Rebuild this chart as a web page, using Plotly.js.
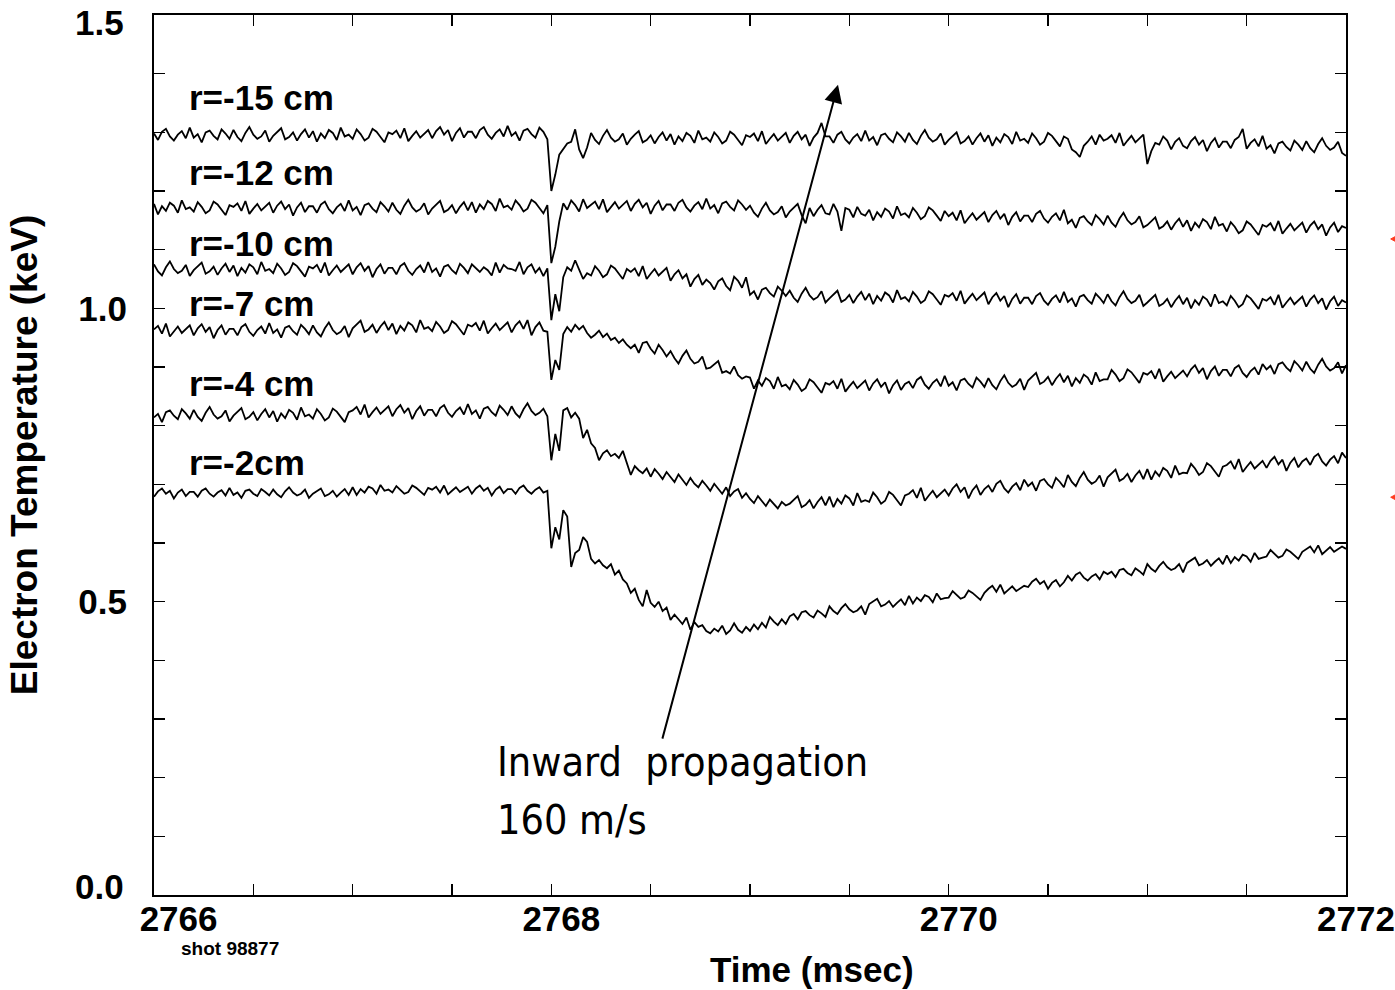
<!DOCTYPE html>
<html>
<head>
<meta charset="utf-8">
<script src="https://cdn.plot.ly/plotly-3.0.1.min.js"></script>
<style>html,body{margin:0;padding:0;background:#fff;}#chart{width:1395px;height:990px;}</style>
</head>
<body>
<div id="chart"></div>
<script>
// ---- data ----
const timeStart = 2766;      // msec
const timeStep = 0.02;

const seriesNames = ['r=-15 cm', 'r=-12 cm', 'r=-10 cm', 'r=-7 cm', 'r=-4 cm', 'r=-2cm'];

const te_r15 = [
1.298,1.287,1.301,1.306,1.293,1.286,1.296,1.302,1.290,1.308,
1.291,1.297,1.283,1.300,1.303,1.294,1.288,1.305,1.298,1.289,
1.304,1.292,1.285,1.299,1.309,1.296,1.289,1.293,1.303,1.284,
1.294,1.301,1.307,1.288,1.292,1.300,1.286,1.297,1.305,1.291,
1.302,1.284,1.298,1.290,1.304,1.299,1.287,1.308,1.293,1.296,
1.289,1.305,1.297,1.286,1.291,1.306,1.301,1.292,1.283,1.300,
1.297,1.303,1.290,1.307,1.285,1.294,1.302,1.291,1.298,1.304,
1.290,1.302,1.309,1.296,1.304,1.285,1.299,1.307,1.291,1.301,
1.301,1.290,1.304,1.309,1.296,1.289,1.299,1.305,1.293,1.311,
1.294,1.300,1.286,1.303,1.306,1.297,1.291,1.308,1.301,1.288,
1.200,1.228,1.262,1.272,1.281,1.284,1.305,1.271,1.256,1.274,
1.299,1.287,1.280,1.294,1.304,1.291,1.284,1.288,1.298,1.279,
1.289,1.296,1.302,1.283,1.287,1.295,1.281,1.292,1.300,1.286,
1.297,1.279,1.293,1.285,1.299,1.294,1.282,1.303,1.288,1.291,
1.284,1.300,1.292,1.281,1.286,1.301,1.296,1.287,1.278,1.295,
1.292,1.298,1.285,1.302,1.280,1.289,1.297,1.286,1.293,1.299,
1.282,1.294,1.301,1.288,1.296,1.277,1.291,1.299,1.316,1.293,
1.293,1.282,1.296,1.301,1.288,1.281,1.291,1.297,1.285,1.303,
1.286,1.292,1.278,1.295,1.298,1.289,1.283,1.300,1.293,1.284,
1.299,1.287,1.280,1.294,1.304,1.291,1.284,1.288,1.298,1.279,
1.287,1.294,1.300,1.281,1.285,1.293,1.279,1.290,1.298,1.284,
1.295,1.277,1.291,1.283,1.297,1.292,1.280,1.301,1.286,1.289,
1.282,1.298,1.290,1.279,1.284,1.299,1.294,1.285,1.276,1.293,
1.289,1.271,1.266,1.258,1.277,1.284,1.293,1.279,1.296,1.286,
1.289,1.295,1.282,1.299,1.277,1.286,1.294,1.283,1.290,1.296,
1.246,1.268,1.282,1.279,1.293,1.286,1.271,1.284,1.290,1.277,
1.273,1.285,1.292,1.279,1.287,1.268,1.282,1.290,1.274,1.284,
1.284,1.273,1.287,1.292,1.306,1.272,1.282,1.288,1.276,1.294,
1.272,1.278,1.264,1.281,1.284,1.275,1.269,1.286,1.279,1.270,
1.285,1.273,1.266,1.280,1.290,1.277,1.270,1.274,1.284,1.265,
1.260];

const te_r12 = [
1.178,1.160,1.174,1.166,1.180,1.175,1.163,1.184,1.169,1.172,
1.165,1.181,1.173,1.162,1.167,1.182,1.177,1.168,1.159,1.176,
1.173,1.179,1.166,1.183,1.161,1.170,1.178,1.167,1.174,1.180,
1.163,1.175,1.182,1.169,1.177,1.158,1.172,1.180,1.164,1.174,
1.174,1.163,1.177,1.182,1.169,1.162,1.172,1.178,1.166,1.184,
1.167,1.173,1.159,1.176,1.179,1.170,1.164,1.181,1.174,1.165,
1.180,1.168,1.161,1.175,1.185,1.172,1.165,1.169,1.179,1.160,
1.170,1.177,1.183,1.164,1.168,1.176,1.162,1.173,1.181,1.167,
1.181,1.163,1.177,1.169,1.183,1.178,1.166,1.187,1.172,1.175,
1.168,1.184,1.176,1.165,1.170,1.185,1.180,1.171,1.162,1.176,
1.077,1.105,1.148,1.179,1.168,1.184,1.176,1.165,1.186,1.171,
1.176,1.182,1.169,1.186,1.164,1.173,1.181,1.170,1.177,1.183,
1.166,1.178,1.185,1.172,1.180,1.161,1.175,1.183,1.167,1.177,
1.177,1.166,1.180,1.185,1.172,1.165,1.175,1.181,1.169,1.187,
1.170,1.176,1.162,1.179,1.182,1.173,1.167,1.184,1.177,1.168,
1.175,1.163,1.156,1.170,1.180,1.167,1.160,1.164,1.174,1.155,
1.165,1.172,1.178,1.159,1.145,1.171,1.157,1.168,1.176,1.162,
1.160,1.178,1.165,1.132,1.171,1.168,1.155,1.173,1.161,1.158,
1.168,1.150,1.164,1.156,1.170,1.165,1.153,1.174,1.159,1.162,
1.155,1.171,1.163,1.152,1.157,1.172,1.167,1.158,1.149,1.166,
1.157,1.163,1.150,1.167,1.145,1.154,1.162,1.151,1.158,1.164,
1.147,1.159,1.166,1.153,1.161,1.142,1.156,1.164,1.148,1.158,
1.158,1.147,1.161,1.166,1.153,1.146,1.156,1.162,1.150,1.168,
1.145,1.151,1.137,1.154,1.157,1.148,1.142,1.159,1.152,1.143,
1.158,1.146,1.139,1.153,1.163,1.150,1.143,1.147,1.157,1.138,
1.142,1.149,1.155,1.136,1.140,1.148,1.134,1.145,1.153,1.139,
1.150,1.132,1.146,1.138,1.152,1.147,1.135,1.156,1.141,1.144,
1.131,1.147,1.139,1.128,1.133,1.148,1.143,1.134,1.125,1.142,
1.139,1.145,1.132,1.149,1.127,1.136,1.144,1.133,1.140,1.146,
1.129,1.141,1.148,1.135,1.143,1.124,1.138,1.146,1.130,1.140,
1.137];

const te_r10 = [
1.075,1.063,1.056,1.070,1.080,1.067,1.060,1.064,1.074,1.055,
1.065,1.072,1.078,1.059,1.063,1.071,1.057,1.068,1.076,1.062,
1.073,1.055,1.069,1.061,1.075,1.070,1.058,1.079,1.064,1.067,
1.060,1.076,1.068,1.057,1.062,1.077,1.072,1.063,1.054,1.071,
1.068,1.074,1.061,1.078,1.056,1.065,1.073,1.062,1.069,1.075,
1.058,1.070,1.077,1.064,1.072,1.053,1.067,1.075,1.059,1.069,
1.069,1.058,1.072,1.077,1.064,1.057,1.067,1.073,1.061,1.079,
1.062,1.068,1.054,1.071,1.074,1.065,1.059,1.076,1.069,1.060,
1.075,1.069,1.062,1.070,1.065,1.056,1.078,1.061,1.074,1.068,
1.067,1.064,1.079,1.058,1.070,1.075,1.061,1.069,1.055,1.068,
0.980,1.024,0.995,1.053,1.070,1.064,1.082,1.066,1.050,1.060,
1.056,1.072,1.064,1.053,1.058,1.073,1.068,1.059,1.050,1.067,
1.062,1.068,1.055,1.072,1.050,1.059,1.067,1.056,1.063,1.069,
1.047,1.058,1.065,1.051,1.058,1.037,1.050,1.057,1.040,1.049,
1.043,1.032,1.046,1.051,1.038,1.031,1.054,1.047,1.035,1.053,
1.023,1.029,1.015,1.032,1.035,1.026,1.020,1.037,1.030,1.021,
1.030,1.018,1.011,1.025,1.035,1.022,1.015,1.019,1.029,1.010,
1.017,1.024,1.030,1.011,1.015,1.023,1.009,1.020,1.028,1.014,
1.025,1.007,1.021,1.013,1.027,1.022,1.010,1.031,1.016,1.019,
1.012,1.028,1.020,1.009,1.014,1.029,1.024,1.015,1.006,1.023,
1.020,1.026,1.013,1.030,1.008,1.017,1.025,1.014,1.021,1.027,
1.007,1.019,1.026,1.013,1.021,1.002,1.016,1.024,1.008,1.018,
1.018,1.007,1.021,1.026,1.013,1.006,1.016,1.022,1.010,1.028,
1.011,1.017,1.003,1.020,1.023,1.014,1.008,1.025,1.018,1.009,
1.024,1.012,1.005,1.019,1.029,1.016,1.009,1.013,1.023,1.004,
1.010,1.017,1.023,1.004,1.008,1.016,1.002,1.013,1.021,1.007,
1.018,1.000,1.014,1.006,1.020,1.015,1.003,1.024,1.009,1.012,
1.005,1.021,1.013,1.002,1.007,1.022,1.017,1.008,0.999,1.016,
1.013,1.019,1.006,1.023,1.001,1.010,1.018,1.007,1.014,1.020,
1.003,1.015,1.022,1.009,1.017,0.998,1.012,1.020,1.004,1.014,
1.010];

const te_r7 = [
0.964,0.970,0.957,0.974,0.952,0.961,0.969,0.958,0.965,0.971,
0.954,0.966,0.973,0.960,0.968,0.949,0.963,0.971,0.955,0.965,
0.965,0.954,0.968,0.973,0.960,0.953,0.963,0.969,0.957,0.975,
0.958,0.964,0.950,0.967,0.970,0.961,0.955,0.972,0.965,0.956,
0.971,0.959,0.952,0.966,0.976,0.963,0.956,0.960,0.970,0.951,
0.966,0.973,0.979,0.960,0.964,0.972,0.958,0.969,0.977,0.963,
0.974,0.956,0.970,0.962,0.976,0.971,0.959,0.980,0.965,0.968,
0.961,0.977,0.969,0.958,0.963,0.978,0.973,0.964,0.955,0.972,
0.969,0.975,0.962,0.979,0.957,0.966,0.974,0.963,0.970,0.976,
0.959,0.971,0.978,0.965,0.980,0.954,0.968,0.976,0.962,0.960,
0.878,0.912,0.895,0.956,0.968,0.960,0.972,0.964,0.970,0.958,
0.950,0.955,0.962,0.951,0.957,0.946,0.950,0.941,0.947,0.938,
0.932,0.938,0.924,0.941,0.943,0.931,0.923,0.938,0.929,0.918,
0.927,0.915,0.906,0.919,0.928,0.914,0.906,0.909,0.918,0.897,
0.899,0.905,0.910,0.890,0.893,0.889,0.901,0.886,0.880,0.884,
0.882,0.863,0.877,0.868,0.881,0.876,0.863,0.883,0.867,0.870,
0.862,0.878,0.870,0.859,0.864,0.879,0.874,0.865,0.856,0.873,
0.870,0.876,0.863,0.880,0.858,0.867,0.875,0.864,0.871,0.877,
0.860,0.872,0.879,0.866,0.874,0.855,0.869,0.877,0.861,0.871,
0.875,0.864,0.878,0.883,0.870,0.863,0.873,0.879,0.867,0.885,
0.868,0.874,0.860,0.877,0.880,0.871,0.865,0.882,0.875,0.866,
0.881,0.869,0.862,0.876,0.886,0.873,0.866,0.870,0.880,0.861,
0.877,0.884,0.890,0.871,0.875,0.883,0.869,0.880,0.888,0.874,
0.885,0.867,0.881,0.873,0.887,0.882,0.870,0.891,0.876,0.879,
0.879,0.895,0.887,0.876,0.881,0.896,0.891,0.882,0.873,0.890,
0.887,0.893,0.880,0.897,0.875,0.884,0.892,0.881,0.888,0.894,
0.884,0.896,0.903,0.890,0.898,0.879,0.893,0.901,0.885,0.895,
0.895,0.884,0.898,0.903,0.890,0.883,0.893,0.899,0.887,0.905,
0.896,0.902,0.888,0.905,0.908,0.899,0.893,0.910,0.903,0.894,
0.909,0.897,0.890,0.904,0.914,0.901,0.894,0.898,0.908,0.889,
0.903];

const te_r4 = [
0.814,0.820,0.806,0.823,0.826,0.817,0.811,0.828,0.821,0.812,
0.827,0.815,0.808,0.822,0.832,0.819,0.812,0.816,0.826,0.807,
0.817,0.824,0.830,0.811,0.815,0.823,0.809,0.820,0.828,0.814,
0.825,0.807,0.821,0.813,0.827,0.822,0.810,0.831,0.816,0.819,
0.812,0.828,0.820,0.809,0.814,0.829,0.824,0.815,0.806,0.823,
0.826,0.832,0.819,0.836,0.814,0.823,0.831,0.820,0.827,0.833,
0.816,0.828,0.835,0.822,0.830,0.811,0.825,0.833,0.817,0.827,
0.827,0.816,0.830,0.835,0.822,0.815,0.825,0.831,0.819,0.837,
0.820,0.826,0.812,0.829,0.832,0.823,0.817,0.834,0.827,0.818,
0.833,0.821,0.814,0.828,0.838,0.825,0.818,0.822,0.829,0.816,
0.741,0.786,0.757,0.826,0.830,0.814,0.822,0.812,0.779,0.793,
0.770,0.762,0.741,0.753,0.758,0.748,0.752,0.745,0.757,0.738,
0.716,0.731,0.724,0.719,0.727,0.713,0.726,0.718,0.709,0.721,
0.712,0.704,0.717,0.708,0.699,0.711,0.701,0.695,0.706,0.698,
0.689,0.701,0.692,0.684,0.695,0.680,0.688,0.692,0.677,0.685,
0.675,0.668,0.680,0.671,0.663,0.674,0.666,0.659,0.670,0.664,
0.667,0.674,0.680,0.661,0.665,0.673,0.659,0.670,0.678,0.664,
0.679,0.661,0.675,0.667,0.681,0.676,0.664,0.685,0.670,0.673,
0.670,0.686,0.678,0.667,0.672,0.687,0.682,0.673,0.664,0.681,
0.684,0.690,0.677,0.694,0.672,0.681,0.689,0.678,0.685,0.691,
0.681,0.693,0.700,0.687,0.695,0.676,0.690,0.698,0.682,0.692,
0.698,0.687,0.701,0.706,0.693,0.686,0.696,0.702,0.690,0.708,
0.697,0.703,0.689,0.706,0.709,0.700,0.694,0.711,0.704,0.695,
0.716,0.704,0.697,0.711,0.721,0.708,0.701,0.705,0.715,0.696,
0.712,0.719,0.725,0.706,0.710,0.718,0.704,0.715,0.723,0.709,
0.726,0.708,0.722,0.714,0.728,0.723,0.711,0.732,0.717,0.720,
0.719,0.735,0.727,0.716,0.721,0.736,0.731,0.722,0.713,0.730,
0.733,0.739,0.726,0.743,0.721,0.730,0.738,0.727,0.734,0.740,
0.728,0.740,0.747,0.734,0.742,0.723,0.737,0.745,0.729,0.739,
0.744,0.733,0.747,0.752,0.739,0.732,0.742,0.748,0.736,0.754,
0.745];

const te_r2 = [
0.679,0.688,0.693,0.684,0.689,0.676,0.686,0.691,0.680,0.687,
0.687,0.679,0.689,0.693,0.684,0.679,0.686,0.690,0.681,0.694,
0.682,0.686,0.677,0.689,0.691,0.684,0.680,0.692,0.687,0.681,
0.691,0.683,0.678,0.688,0.695,0.686,0.681,0.684,0.691,0.677,
0.684,0.689,0.693,0.680,0.683,0.689,0.679,0.686,0.692,0.682,
0.695,0.682,0.692,0.686,0.696,0.693,0.684,0.699,0.689,0.691,
0.686,0.697,0.691,0.684,0.687,0.698,0.694,0.688,0.682,0.694,
0.691,0.696,0.686,0.698,0.683,0.689,0.695,0.687,0.692,0.696,
0.684,0.693,0.698,0.689,0.694,0.681,0.691,0.696,0.685,0.692,
0.692,0.684,0.694,0.698,0.689,0.684,0.691,0.695,0.686,0.689,
0.591,0.627,0.606,0.656,0.645,0.559,0.583,0.588,0.610,0.602,
0.573,0.565,0.571,0.562,0.557,0.564,0.546,0.553,0.538,0.531,
0.515,0.522,0.503,0.492,0.520,0.498,0.491,0.500,0.484,0.490,
0.469,0.478,0.470,0.462,0.473,0.452,0.465,0.457,0.460,0.450,
0.446,0.454,0.449,0.459,0.445,0.451,0.463,0.452,0.447,0.457,
0.450,0.461,0.453,0.464,0.456,0.474,0.466,0.460,0.470,0.462,
0.475,0.479,0.470,0.482,0.484,0.477,0.473,0.485,0.480,0.474,
0.492,0.484,0.479,0.489,0.496,0.487,0.482,0.485,0.492,0.478,
0.496,0.501,0.505,0.492,0.495,0.501,0.491,0.498,0.504,0.494,
0.510,0.497,0.507,0.501,0.511,0.508,0.499,0.514,0.504,0.506,
0.507,0.518,0.512,0.505,0.508,0.519,0.515,0.509,0.503,0.515,
0.522,0.527,0.517,0.529,0.514,0.520,0.526,0.518,0.523,0.527,
0.525,0.534,0.539,0.530,0.535,0.522,0.532,0.537,0.526,0.533,
0.544,0.536,0.546,0.550,0.541,0.536,0.543,0.547,0.538,0.551,
0.547,0.551,0.542,0.554,0.556,0.549,0.545,0.557,0.552,0.546,
0.564,0.556,0.551,0.561,0.568,0.559,0.554,0.557,0.564,0.550,
0.566,0.571,0.575,0.562,0.565,0.571,0.561,0.568,0.574,0.564,
0.579,0.566,0.576,0.570,0.580,0.577,0.568,0.583,0.573,0.575,
0.577,0.588,0.582,0.575,0.578,0.589,0.585,0.579,0.573,0.585,
0.589,0.594,0.584,0.596,0.581,0.587,0.593,0.585,0.590,0.594,
0.590];

const xTickVals = [2766, 2766.5, 2767, 2767.5, 2768, 2768.5, 2769, 2769.5, 2770, 2770.5, 2771, 2771.5, 2772];
const xTickText = ['&nbsp;&nbsp;&nbsp;2766', '', '', '', '2768', '', '', '', '2770', '', '', '', '2772'];
const yTickVals = [0, 0.1, 0.2, 0.3, 0.4, 0.5, 0.6, 0.7, 0.8, 0.9, 1.0, 1.1, 1.2, 1.3, 1.4, 1.5];
// the end labels (0.0 and 1.5) sit just inside the frame, so they are drawn as their own texts below
const yTickText = ['', '', '', '', '', '0.5', '', '', '', '', '1.0', '', '', '', '', ''];
const yEndLabels = ['0.0', '1.5'];

const xTitle = 'Time (msec)';
const yTitle = 'Electron Temperature (keV)';
const shotLabel = 'shot 98877';
const noteLine1 = 'Inward&nbsp;&nbsp;propagation';
const noteLine2 = '160 m/s';

// ---- build ----
const series = [te_r15, te_r12, te_r10, te_r7, te_r4, te_r2];
const times = te_r15.map((_, i) => +(timeStart + i * timeStep).toFixed(3));

const traces = series.map((vals, k) => ({
  type: 'scatter', mode: 'lines', name: seriesNames[k],
  x: times, y: vals,
  line: {color: '#000', width: 1.8},
  showlegend: false, hoverinfo: 'skip'
}));

const boldFont = 'Liberation Sans, Arial, Helvetica, sans-serif';
const narrowFont = 'Liberation Sans Narrow, Arial Narrow, DejaVu Sans Condensed, sans-serif';
const labelY = [1.360, 1.231, 1.110, 1.008, 0.872, 0.737];

const annotations = seriesNames.map((n, k) => ({
  text: n, xref: 'x', yref: 'y', x: 2766.165, y: labelY[k],
  xanchor: 'left', yanchor: 'middle', showarrow: false,
  font: {family: boldFont, size: 35, weight: 'bold', color: '#000'}
}));

annotations.push({
  text: '', xref: 'x', yref: 'y', axref: 'x', ayref: 'y',
  x: 2769.443, y: 1.381, ax: 2768.557, ay: 0.264,
  showarrow: true, arrowhead: 2, arrowsize: 1.8, arrowwidth: 2, arrowcolor: '#000'
});
[[noteLine1, 0.2267], [noteLine2, 0.1278]].forEach(([txt, yy]) => annotations.push({
  text: txt, xref: 'x', yref: 'y', x: 2767.715, y: yy,
  xanchor: 'left', yanchor: 'middle', align: 'left', showarrow: false,
  font: {family: narrowFont, size: 41, color: '#000'}
}));
annotations.push({
  text: xTitle, xref: 'paper', yref: 'paper', x: 0.552, y: -0.085,
  xanchor: 'center', yanchor: 'middle', showarrow: false,
  font: {family: boldFont, size: 35, weight: 'bold', color: '#000'}
});
annotations.push({
  text: shotLabel, xref: 'paper', yref: 'paper', x: 0.064, y: -0.061,
  xanchor: 'center', yanchor: 'middle', showarrow: false,
  font: {family: boldFont, size: 19, weight: 'bold', color: '#000'}
});
[[yEndLabels[0], 0.010], [yEndLabels[1], 0.9915]].forEach(([txt, py]) => annotations.push({
  text: txt, xref: 'paper', yref: 'paper', x: -0.0235, y: py,
  xanchor: 'right', yanchor: 'middle', showarrow: false,
  font: {family: boldFont, size: 35, weight: 'bold', color: '#000'}
}));

const redMarks = [0.7455, 0.452].map(py => ({
  type: 'path', xref: 'paper', yref: 'paper',
  path: `M 1.0375 ${py} L 1.043 ${py + 0.004} L 1.043 ${py - 0.004} Z`,
  fillcolor: '#ff3b1f', line: {color: '#ff3b1f', width: 1}
}));

const axisCommon = {
  showline: true, linecolor: '#000', linewidth: 2, mirror: 'ticks',
  ticks: 'inside', ticklen: 11, tickwidth: 1.6, tickcolor: '#000',
  showgrid: false, zeroline: false, ticklabeloverflow: 'allow',
  tickfont: {family: boldFont, size: 35, weight: 'bold', color: '#000'}
};

const layout = {
  width: 1395, height: 990,
  margin: {l: 154, r: 49, t: 15, b: 95, pad: 0},
  paper_bgcolor: '#fff', plot_bgcolor: '#fff',
  showlegend: false,
  xaxis: Object.assign({}, axisCommon, {
    range: [2766, 2772], tickmode: 'array', tickvals: xTickVals, ticktext: xTickText,
    ticklabelshift: 10, ticklabelstandoff: -8
  }),
  yaxis: Object.assign({}, axisCommon, {
    range: [0, 1.5], tickmode: 'array', tickvals: yTickVals, ticktext: yTickText,
    ticklabelstandoff: 18,
    title: {text: yTitle, standoff: 29, font: {family: boldFont, size: 37, weight: 'bold', color: '#000'}}
  }),
  annotations: annotations,
  shapes: redMarks
};

Plotly.newPlot('chart', traces, layout, {staticPlot: true, displayModeBar: false});
</script>
</body>
</html>
